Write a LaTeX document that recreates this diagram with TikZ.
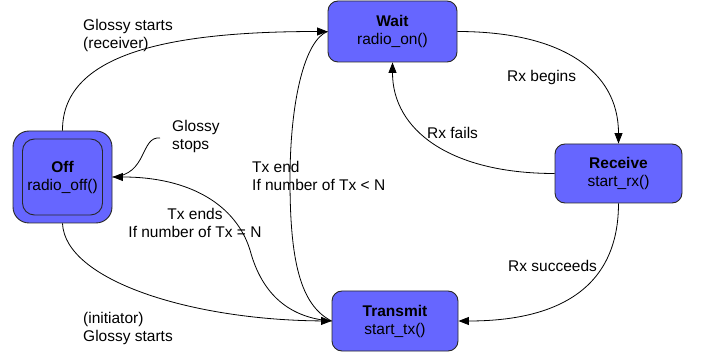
\documentclass[tikz,border=0pt]{standalone}
\usepackage{fontspec}
\setmainfont{Liberation Sans}
\usetikzlibrary{arrows.meta}
\definecolor{statefill}{RGB}{102,102,255}
\definecolor{stateline}{RGB}{40,40,40}
\tikzset{
  statebox/.style={draw=stateline, line width=0.9pt, fill=statefill, rounded corners=10pt,
    align=center, inner sep=0pt, font=\fontsize{15.5}{18}\selectfont},
  lbl/.style={inner sep=0pt, align=left, font=\fontsize{15.5}{18}\selectfont, anchor=west},
  conn/.style={draw=black, line width=0.8pt},
  arr/.style={conn, -{Triangle[length=10.5pt,width=8pt]}}
}
\begin{document}
\begin{tikzpicture}[x=1pt,y=-1pt]
\useasboundingbox (0,0) rectangle (702,358);
% states
\node[statebox, minimum width=99pt, minimum height=92pt, rounded corners=16pt] (off) at (62.5,177) {};
\node[statebox, minimum width=80pt, minimum height=76pt, rounded corners=12pt] (offin) at (62.5,177) {\textbf{Off}\\radio\_off()};
\node[statebox, minimum width=129pt, minimum height=61pt] (wait) at (392.5,31.5) {\textbf{Wait}\\radio\_on()};
\node[statebox, minimum width=127pt, minimum height=59pt] (receive) at (618.5,173.5) {\textbf{Receive}\\start\_rx()};
\node[statebox, minimum width=126pt, minimum height=60pt] (transmit) at (395,321) {\textbf{Transmit}\\start\_tx()};
\coordinate (stopsstart) at (160,138);
% connectors
\draw[arr] (off.north) .. controls (62,50) and (180,31.5) .. (wait.west);
\draw[conn] (transmit.west) .. controls (300,305) and (290,260) .. (290,180) .. controls (290,100) and (305,40) .. (wait.west);
\draw[arr] (off.south) .. controls (65,280) and (190,320) .. (transmit.west);
\draw[arr] (transmit.west) .. controls (290,318) and (262,295) .. (250,250) .. controls (236,205) and (190,177) .. (off.east);
\draw[conn] (stopsstart) .. controls (140,136) and (148,175) .. (off.east);
\draw[arr] (wait.east) .. controls (560,31.5) and (618.5,70) .. (receive.north);
\draw[arr] (receive.west) .. controls (450,173.5) and (392.5,130) .. (wait.south);
\draw[arr] (receive.south) .. controls (618.5,300) and (540,321) .. (transmit.east);
% labels
\node[lbl] (l1) at (83,35) {Glossy starts\\(receiver)};
\node[lbl] (l2) at (172,136) {Glossy\\stops};
\node[lbl] (l3) at (252,176) {Tx end\\If number of Tx < N};
\node[inner sep=0pt, align=center, font=\fontsize{15.5}{18}\selectfont] (l4) at (195,223) {Tx ends\\If number of Tx = N};
\node[lbl] (l5) at (83,328) {(initiator)\\Glossy starts};
\node[lbl] (l6) at (507,77) {Rx begins};
\node[lbl] (l7) at (427,133) {Rx fails};
\node[lbl] (l8) at (508,266) {Rx succeeds};
\end{tikzpicture}
\end{document}
